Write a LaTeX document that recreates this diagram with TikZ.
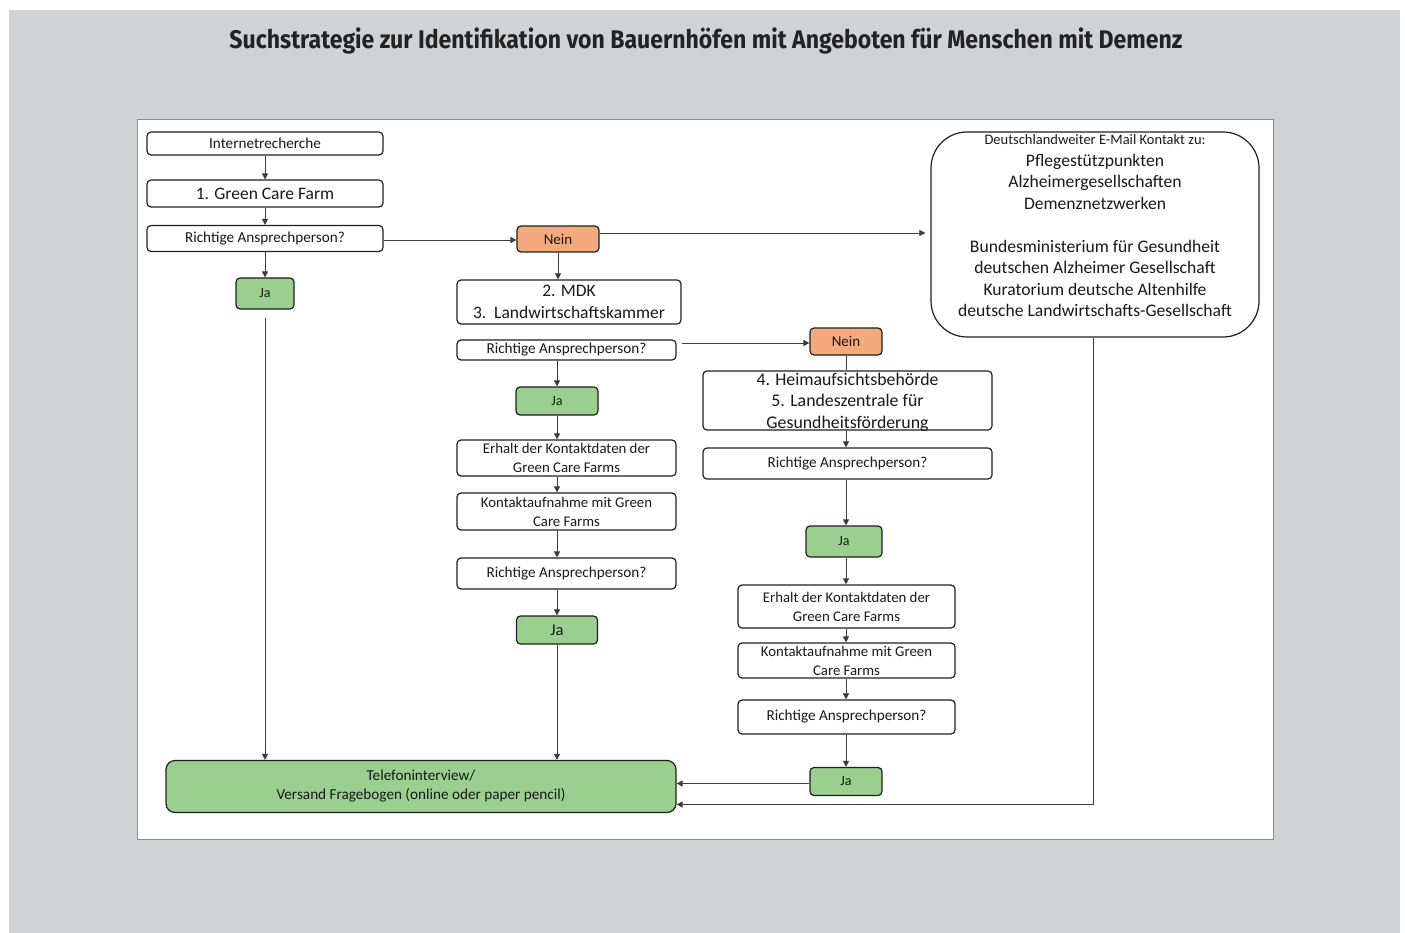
\documentclass[tikz,border=0pt]{standalone}
\usepackage{fontspec}
\usepackage{graphicx}
\setmainfont{Carlito}
\newfontfamily\titlefont{Fira Sans}
\usetikzlibrary{arrows.meta}
\definecolor{bggray}{RGB}{209,210,212}
\definecolor{boxgreen}{RGB}{155,207,143}
\definecolor{boxorange}{RGB}{244,170,125}
\definecolor{linegray}{RGB}{60,60,60}
\definecolor{titlecol}{RGB}{35,35,35}
\newcommand\fsz[1]{\fontsize{#1pt}{1.25\dimexpr #1pt\relax}\selectfont}
\tikzset{
  box/.style={draw=black!88, line width=1.2pt, rounded corners=4pt, fill=white,
    inner sep=0pt, align=center, text=black!90},
  greenbox/.style={box, fill=boxgreen},
  orangebox/.style={box, fill=boxorange},
  arr/.style={draw=linegray, line width=0.9pt, -{Triangle[length=6pt,width=6pt]}},
  plain/.style={draw=linegray, line width=0.9pt},
  txt/.style={inner sep=0pt, align=center, text=black!90}
}
\begin{document}
\begin{tikzpicture}[x=1pt,y=-1pt]
\useasboundingbox (0,0) rectangle (1405,933);
\fill[white] (0,0) rectangle (1405,933);
\fill[bggray] (9,10) rectangle (1400,933);
\fill[white, draw=black!45, line width=0.6pt] (137,119) rectangle (1273,839);
% title
\node[inner sep=0pt, text=titlecol] (title) at (706,41)
  {\resizebox{953pt}{\height}{\titlefont\bfseries\fontsize{25.5pt}{26pt}\selectfont Suchstrategie zur Identifikation von Bauernhöfen mit Angeboten für Menschen mit Demenz}};
% left column
\node[box, minimum width=236pt, minimum height=23pt, font=\fsz{15.2}] (inet) at (265,143.5) {Internetrecherche};
\node[box, minimum width=236pt, minimum height=27pt, font=\fsz{17.5}] (gcf) at (265,193.5) {1. Green Care Farm};
\node[box, minimum width=236pt, minimum height=26pt, font=\fsz{15.2}] (r1) at (265,238.5) {Richtige Ansprechperson?};
\node[greenbox, minimum width=58pt, minimum height=31pt, font=\fsz{14}] (ja1) at (265,293.5) {Ja};
% middle column
\node[orangebox, minimum width=82pt, minimum height=26pt, font=\fsz{15}] (nein1) at (558,239) {Nein};
\node[box, minimum width=224pt, minimum height=44pt, font=\fsz{17.5}] (mdk) at (569,302) {2. MDK\\3.\ \ Landwirtschaftskammer};
\node[box, minimum width=219pt, minimum height=20pt, font=\fsz{15.2}] (r2) at (566.5,350) {Richtige Ansprechperson?};
\node[greenbox, minimum width=82pt, minimum height=28pt, font=\fsz{14}] (ja2) at (557,401) {Ja};
\node[box, minimum width=219pt, minimum height=36pt, font=\fontsize{14.8pt}{19pt}\selectfont] (erh1) at (566.5,458) {Erhalt der Kontaktdaten der\\Green Care Farms};
\node[box, minimum width=219pt, minimum height=37pt, font=\fontsize{14.8pt}{19pt}\selectfont] (kon1) at (566.5,511.5) {Kontaktaufnahme mit Green\\Care Farms};
\node[box, minimum width=219pt, minimum height=31pt, font=\fsz{15.2}] (r3) at (566.5,573.5) {Richtige Ansprechperson?};
\node[greenbox, minimum width=81pt, minimum height=28pt, font=\fsz{16.5}] (ja3) at (557,630) {Ja};
% right-middle column
\node[orangebox, minimum width=72pt, minimum height=27pt, font=\fsz{15}] (nein2) at (846,341.5) {Nein};
\node[box, minimum width=289pt, minimum height=59pt] (heim) at (847.5,400.5) {};
\node[txt, font=\fontsize{17.8pt}{21.5pt}\selectfont] (heimtxt) at (847.5,402) {4. Heimaufsichtsbehörde\\5. Landeszentrale für\\Gesundheitsförderung};
\node[box, minimum width=289pt, minimum height=31pt, font=\fsz{15.2}] (r4) at (847.5,463.5) {Richtige Ansprechperson?};
\node[greenbox, minimum width=76pt, minimum height=31pt, font=\fsz{14}] (ja4) at (844,541.5) {Ja};
\node[box, minimum width=217pt, minimum height=43pt, font=\fontsize{14.8pt}{19pt}\selectfont] (erh2) at (846.5,606.5) {Erhalt der Kontaktdaten der\\Green Care Farms};
\node[box, minimum width=217pt, minimum height=35pt, font=\fontsize{14.8pt}{19pt}\selectfont] (kon2) at (846.5,660.5) {Kontaktaufnahme mit Green\\Care Farms};
\node[box, minimum width=217pt, minimum height=34pt, font=\fsz{15.2}] (r5) at (846.5,717) {Richtige Ansprechperson?};
\node[greenbox, minimum width=72pt, minimum height=28pt, font=\fsz{14}] (ja5) at (846,781.5) {Ja};
% bottom
\node[greenbox, rounded corners=9pt, minimum width=510pt, minimum height=52pt, font=\fontsize{15.2pt}{19pt}\selectfont] (tel) at (421,786.5) {Telefoninterview/\\Versand Fragebogen (online oder paper pencil)};
% right big box
\node[box, rounded corners=36pt, minimum width=328pt, minimum height=205pt] (deu) at (1095,234.5) {};
\node[txt, font=\fontsize{17.6pt}{21.5pt}\selectfont] (deutxt) at (1095,226)
  {{\fontsize{14.5pt}{16pt}\selectfont Deutschlandweiter E-Mail Kontakt zu:}\\
   Pflegestützpunkten\\Alzheimergesellschaften\\Demenznetzwerken\\[21.5pt]
   Bundesministerium für Gesundheit\\deutschen Alzheimer Gesellschaft\\
   Kuratorium deutsche Altenhilfe\\deutsche Landwirtschafts-Gesellschaft};
% connectors left
\draw[arr] (inet) -- (gcf);
\draw[arr] (gcf) -- (r1);
\draw[arr] (r1) -- (ja1);
\draw[arr] ([yshift=-1.5pt]r1.east) -- ([yshift=-1.5pt]r1.east -| nein1.west);
\draw[arr, shorten >=5pt] ([yshift=6pt]nein1.east) -- ([yshift=6pt]nein1.east -| deu.west);
\draw[arr] ([yshift=-8pt]ja1.south) -- (ja1.south |- tel.north);
% middle
\draw[arr] (nein1) -- (nein1.south |- mdk.north);
\draw[arr] ([xshift=5pt,yshift=7pt]r2.east) -- ([yshift=7pt]r2.east -| nein2.west);
\draw[arr] (ja2.north |- r2.south) -- (ja2.north);
\draw[arr] (ja2.south) -- (ja2.south |- erh1.north);
\draw[arr] (erh1.south -| ja2) -- (kon1.north -| ja2);
\draw[arr] (kon1.south -| ja3) -- (r3.north -| ja3);
\draw[arr] (r3.south -| ja3) -- (ja3.north);
\draw[arr] (ja3.south) -- (ja3.south |- tel.north);
% right-middle
\draw[plain] (nein2.south) -- (nein2.south |- heim.north);
\draw[arr] (heim.south -| nein2) -- (r4.north -| nein2);
\draw[arr] (r4.south -| nein2) -- (ja4.north -| nein2);
\draw[arr] (ja4.south -| nein2) -- (erh2.north -| nein2);
\draw[arr] (erh2.south -| nein2) -- (kon2.north -| nein2);
\draw[arr] (kon2.south -| nein2) -- (r5.north -| nein2);
\draw[arr] (r5.south -| nein2) -- (ja5.north -| nein2);
\draw[arr] ([yshift=-2pt]ja5.west) -- ([yshift=-2pt]ja5.west -| tel.east);
\draw[arr] ([xshift=-2pt]deu.south) |- ([yshift=-18pt]tel.east);
\end{tikzpicture}
\end{document}
